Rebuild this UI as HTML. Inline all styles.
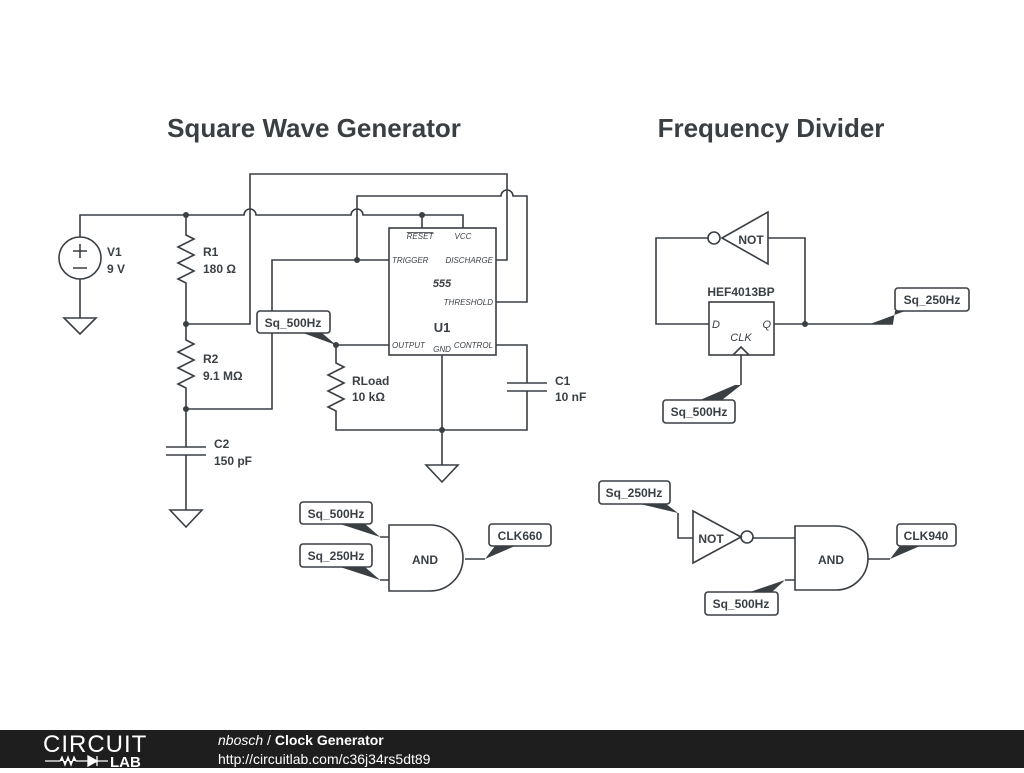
<!DOCTYPE html>
<html><head><style>
body{margin:0;background:#fff;width:1024px;height:768px;overflow:hidden;font-family:"Liberation Sans",sans-serif}
svg text{font-family:"Liberation Sans",sans-serif;fill:#3a3f44}
</style></head><body>
<svg width="1024" height="768" viewBox="0 0 1024 768" xmlns="http://www.w3.org/2000/svg">
<g fill="none" stroke="#3a3f44" stroke-width="1.6">
<path d="M80 237V215H244a6 6 0 0 1 12 0H351a6 6 0 0 1 12 0H463V228"/>
<path d="M422 215V228"/>
<circle cx="80" cy="258" r="21"/>
<path d="M80 279V318M64 318H96L80 334Z"/>
<path d="M73 251H87M80 244V258M73 268H87"/>
<path d="M186 215V235l8 4-16 8 16 8-16 8 16 8-16 8 8 4V340l8 4-16 8 16 8-16 8 16 8-16 8 8 4V447M166 447H206M166 455H206M186 455V510M170 510H202L186 527Z"/>
<path d="M186 324H250V174H507V260H496"/>
<path d="M389 260H357V196H501a6 6 0 0 1 12 0H527V302H496"/>
<path d="M357 260H272V409H186"/>
<rect x="389" y="228" width="107" height="127"/>
<path d="M389 345H336V363l8 4-16 8 16 8-16 8 16 8-16 8 8 4V430H527V391M507 391H547M507 383H547M527 383V345H496"/>
<path d="M442 355V465M426 465H458L442 482Z"/>
<path d="M380 537H389M380 580H389M389 525H430a33 33 0 0 1 0 66H389Z M465 559H485"/>
<path d="M722 238L768 212V264Z"/>
<circle cx="714" cy="238" r="6"/>
<path d="M708 238H656V324H709M768 238H805V324M774 324H893"/>
<rect x="709" y="302" width="65" height="53"/>
<path d="M733 355L741 347L749 355M741 355V385"/>
<path d="M678 513V538H693M693 511L741 537L693 563Z"/>
<circle cx="747" cy="537" r="6"/>
<path d="M753 538H795M785 580H795M795 526H836a32 32 0 0 1 0 64H795Z M868 559H890"/>
</g>
<g fill="#3a3f44">
<circle cx="186" cy="215" r="3"/><circle cx="422" cy="215" r="3"/>
<circle cx="186" cy="324" r="3"/><circle cx="186" cy="409" r="3"/>
<circle cx="357" cy="260" r="3"/><circle cx="336" cy="345" r="3"/>
<circle cx="442" cy="430" r="3"/><circle cx="805" cy="324" r="3"/>
<path d="M303 333L336 345L322 333Z"/>
<path d="M895 311L893 324L870 324L905 311Z"/>
<path d="M741 385L722 400L700 400L735 385Z"/>
<path d="M640 504L678 513L666 504Z"/>
<path d="M785 580L750 592L772 592Z"/>
<path d="M890 559L900 546L920 546Z"/>
<path d="M485 559L495 546L515 546Z"/>
<path d="M340 524L380 537L365 524Z"/>
<path d="M340 567L380 580L365 567Z"/>
</g>
<g fill="#fff" stroke="#3a3f44" stroke-width="1.6">
<rect x="257" y="311" width="73" height="22" rx="3"/>
<rect x="895" y="288" width="74" height="23" rx="3"/>
<rect x="663" y="400" width="72" height="23" rx="3"/>
<rect x="599" y="481" width="71" height="23" rx="3"/>
<rect x="705" y="592" width="73" height="23" rx="3"/>
<rect x="897" y="524" width="59" height="22" rx="3"/>
<rect x="300" y="502" width="72" height="22" rx="3"/>
<rect x="300" y="544" width="72" height="23" rx="3"/>
<rect x="489" y="524" width="62" height="22" rx="3"/>
</g>
<g font-size="12" font-weight="bold">
<text x="293" y="327" text-anchor="middle">Sq_500Hz</text>
<text x="932" y="304" text-anchor="middle">Sq_250Hz</text>
<text x="699" y="416" text-anchor="middle">Sq_500Hz</text>
<text x="634" y="497" text-anchor="middle">Sq_250Hz</text>
<text x="741" y="608" text-anchor="middle">Sq_500Hz</text>
<text x="926" y="540" text-anchor="middle">CLK940</text>
<text x="336" y="518" text-anchor="middle">Sq_500Hz</text>
<text x="336" y="560" text-anchor="middle">Sq_250Hz</text>
<text x="520" y="540" text-anchor="middle">CLK660</text>
<text x="107" y="256">V1</text><text x="107" y="273">9 V</text>
<text x="203" y="256">R1</text><text x="203" y="273">180 Ω</text>
<text x="203" y="363">R2</text><text x="203" y="380">9.1 MΩ</text>
<text x="214" y="448">C2</text><text x="214" y="465">150 pF</text>
<text x="352" y="385">RLoad</text><text x="352" y="401">10 kΩ</text>
<text x="555" y="385">C1</text><text x="555" y="401">10 nF</text>
<text x="425" y="564" text-anchor="middle">AND</text>
<text x="831" y="564" text-anchor="middle">AND</text>
<text x="751" y="244" text-anchor="middle">NOT</text>
<text x="711" y="543" text-anchor="middle">NOT</text>
<text x="741" y="296" text-anchor="middle">HEF4013BP</text>
<text x="442" y="332" text-anchor="middle" font-size="13">U1</text>
</g>
<g font-size="8" font-style="italic">
<text x="420" y="239" text-anchor="middle" text-decoration="overline">RESET</text>
<text x="463" y="239" text-anchor="middle">VCC</text>
<text x="392" y="263">TRIGGER</text>
<text x="493" y="263" text-anchor="end">DISCHARGE</text>
<text x="493" y="305" text-anchor="end">THRESHOLD</text>
<text x="392" y="348">OUTPUT</text>
<text x="442" y="352" text-anchor="middle">GND</text>
<text x="493" y="348" text-anchor="end">CONTROL</text>
<text x="442" y="287" text-anchor="middle" font-size="11" font-weight="bold">555</text>
<text x="712" y="328" font-size="11">D</text>
<text x="771" y="328" font-size="11" text-anchor="end">Q</text>
<text x="741" y="341" font-size="11" text-anchor="middle">CLK</text>
</g>
<text x="314" y="137" text-anchor="middle" font-size="26" font-weight="bold">Square Wave Generator</text>
<text x="771" y="137" text-anchor="middle" font-size="26" font-weight="bold">Frequency Divider</text>
<rect x="0" y="730" width="1024" height="38" fill="#1e1e1e"/>
<text x="43" y="752" font-size="24" style="fill:#fff" letter-spacing="1">CIRCUIT</text>
<path d="M45 761H60l2-4 3 8 3-8 3 8 3-8 2 4H88M88 756V766L97 761ZM97 756V766M97 761H108" stroke="#fff" fill="#fff" stroke-width="1.3"/>
<text x="110" y="767" font-size="15" font-weight="bold" style="fill:#fff">LAB</text>
<text x="218" y="745" font-size="14" style="fill:#fff"><tspan font-style="italic">nbosch</tspan> / <tspan font-weight="bold">Clock Generator</tspan></text>
<text x="218" y="764" font-size="14" style="fill:#fff">http://circuitlab.com/c36j34rs5dt89</text>
</svg>
</body></html>
